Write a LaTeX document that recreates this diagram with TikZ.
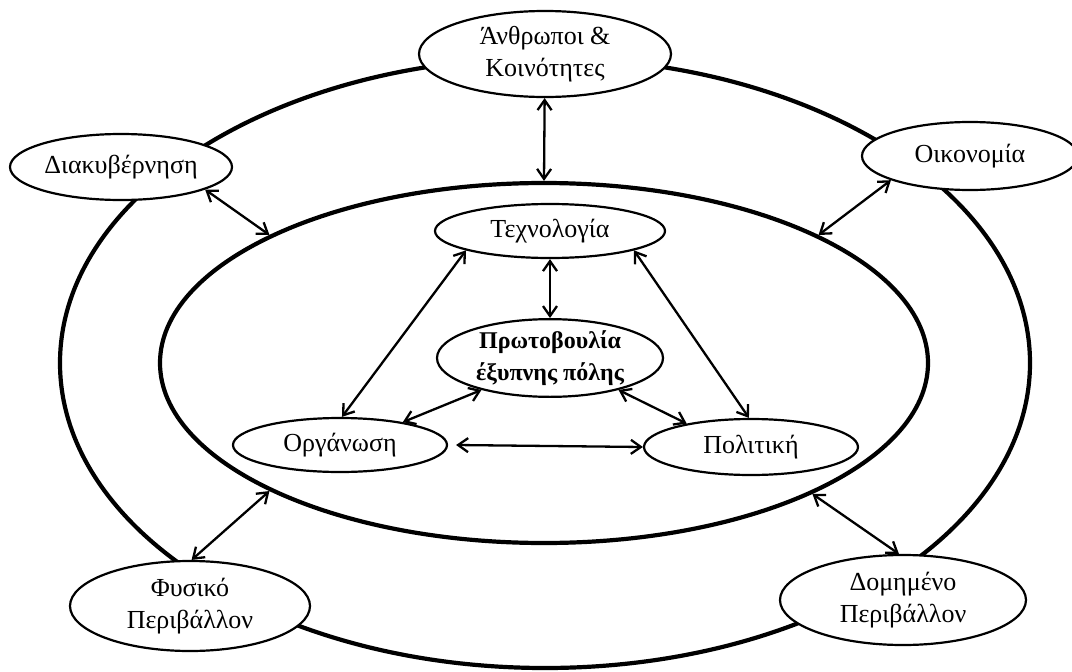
\documentclass[tikz,border=0pt]{standalone}
\usepackage{fontspec}
\setmainfont{Liberation Serif}
\usetikzlibrary{shapes.geometric,arrows.meta}
\begin{document}
\begin{tikzpicture}[x=1pt,y=-1pt,
  ring/.style={draw, line width=4.2pt, ellipse, inner sep=0pt},
  topic/.style={draw, line width=2.2pt, ellipse, fill=white, inner sep=0pt,
    align=center, font=\fontsize{26}{32}\selectfont},
  link/.style={line width=2.3pt, {Straight Barb[length=10pt,width=14pt,line width=2.3pt]}-{Straight Barb[length=10pt,width=14pt,line width=2.3pt]}}]
\useasboundingbox (0,0) rectangle (1072,672);

% the two rings
\node[ring, minimum width=970pt, minimum height=610pt] (outer) at (545,363) {};
\node[ring, minimum width=768pt, minimum height=360pt] (inner) at (544,363) {};

% outer topics
\node[topic, minimum width=252pt, minimum height=86pt] (hum) at (545,54) {Άνθρωποι \&\\Κοινότητες};
\node[topic, minimum width=222pt, minimum height=66pt] (dia) at (121,167) {Διακυβέρνηση};
\node[topic, minimum width=216pt, minimum height=68pt] (oik) at (970,156) {Οικονομία};
\node[topic, minimum width=240pt, minimum height=90pt] (fys) at (190,606) {Φυσικό\\Περιβάλλον};
\node[topic, minimum width=246pt, minimum height=90pt] (dom) at (903,600) {Δομημένο\\Περιβάλλον};

% inner topics
\node[topic, minimum width=230pt, minimum height=54pt] (tech) at (550,231) {Τεχνολογία};
\node[topic, minimum width=226pt, minimum height=76pt, font=\fontsize{24}{32}\selectfont\bfseries] (prot) at (550,358) {Πρωτοβουλία\\έξυπνης πόλης};
\node[topic, minimum width=214pt, minimum height=54pt] (org) at (340,445) {Οργάνωση};
\node[topic, minimum width=214pt, minimum height=56pt] (pol) at (751,447) {Πολιτική};

% links between the rings
\draw[link] (hum) -- (inner.north);
\draw[link] (dia.345) -- (inner.155);
\draw[link] (oik.197) -- (inner.25);
\draw[link] (fys.88) -- (inner.205);
\draw[link] (dom.95) -- (inner.334);

% links inside the inner ring
\draw[link] (tech) -- (prot);
\draw[link] (tech.193) -- (org.86);
\draw[link] (tech.347) -- (pol.94);
\draw[link] (prot.205) -- (org.20);
\draw[link] (prot.335) -- (pol.160);
\draw[link] ([xshift=8pt]org.east) -- (pol.west);
\end{tikzpicture}
\end{document}
